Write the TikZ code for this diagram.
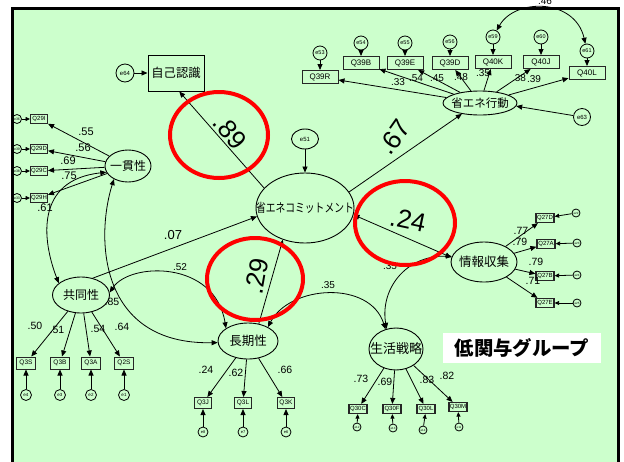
\documentclass[tikz,border=0pt]{standalone}
\usepackage{fontspec}
\setmainfont{Liberation Sans}
\newfontfamily\jp{Noto Sans CJK JP}
\usetikzlibrary{shapes.geometric,arrows.meta}
\definecolor{bgg}{HTML}{CCFFCC}
\begin{document}
\begin{tikzpicture}[x=1pt,y=-1pt,
  lat/.style={ellipse,draw,line width=0.9pt,inner sep=0pt},
  ob/.style={rectangle,draw=black!85,line width=1pt,inner sep=0pt},
  er/.style={circle,draw,line width=0.8pt,inner sep=0pt},
  a/.style={-{Triangle[length=6pt,width=5pt]},line width=0.8pt},
  aa/.style={{Triangle[length=6pt,width=5pt]}-{Triangle[length=6pt,width=5pt]},line width=0.8pt},
  sa/.style={-{Triangle[length=4.5pt,width=4pt]},line width=0.8pt},
  jt/.style={font=\jp\fontsize{#1}{#1}\selectfont},
  ef/.style={font=\fontsize{#1}{#1}\selectfont},
  pl/.style={font=\fontsize{#1}{#1}\selectfont,inner sep=0pt},
  bg/.style={font=\fontsize{26}{26}\selectfont,inner sep=0pt},
  rc/.style={ellipse,draw=red,line width=4pt,inner sep=0pt}
]
\useasboundingbox (0,0) rectangle (624,461);
\fill[white] (0,0) rectangle (624,461);
\draw[line width=3pt,fill=bgg] (12.5,8.5) rectangle (618.5,480);

% latent variables
\node[ob,draw=black,minimum width=56pt,minimum height=36pt,label={[jt=12.3]center:自己認識}] (self) at (176,73) {};
\node[er,minimum size=18pt,label={[ef=6]center:e64}] (e64) at (125,73) {};
\node[lat,minimum width=98pt,minimum height=70pt,label={[jt=9.8]center:\scalebox{1}[1.25]{省エネコミットメント}}] (cm) at (305,208) {};
\node[lat,minimum width=27pt,minimum height=20pt,label={[ef=6]center:e51}] (e51) at (305,139) {};
\node[lat,minimum width=74pt,minimum height=24pt,label={[jt=11.5]center:省エネ行動}] (sk) at (480,103) {};
\node[er,minimum size=17pt,label={[ef=6]center:e63}] (e63) at (582,117) {};
\node[lat,minimum width=46pt,minimum height=32pt,label={[jt=12]center:一貫性}] (yi) at (128,166) {};
\node[lat,minimum width=57pt,minimum height=36pt,label={[jt=12]center:共同性}] (ky) at (81,295) {};
\node[lat,minimum width=60pt,minimum height=36pt,label={[jt=12.5]center:長期性}] (cq) at (248,341) {};
\node[lat,minimum width=54pt,minimum height=42pt,label={[jt=13]center:生活戦略}] (ss) at (396,349) {};
\node[lat,minimum width=66pt,minimum height=40pt,label={[jt=12.5]center:情報収集}] (jh) at (484,262) {};

% indicators of 省エネ行動
\foreach \n/\x/\y/\ey/\en in {Q39R/320/77/53/e53, Q39B/361/63/43/e54, Q39E/405/63/43/e55, Q39D/450/63/42/e56, Q40K/493/62/37/e59, Q40J/541/62/37/e60, Q40L/587/73/51/e61}{
  \node[ob,minimum width=36pt,minimum height=13pt,label={[ef=8]center:\n}] (\n) at (\x,\y) {};
  \node[er,minimum size=14pt,label={[ef=5.5]center:\en}] (\en) at (\x,\ey) {};
  \draw[a] (\en) -- (\n);
  \draw[a] (sk) -- (\n);
}
% indicators of 一貫性
\foreach \n/\y/\en in {Q29I/119/e36, Q29D/149/e39, Q29C/171/e38, Q29H/198/e33}{
  \node[ob,minimum width=17pt,minimum height=9pt,label={[ef=6]center:\n}] (\n) at (39,\y) {};
  \node[er,minimum size=9pt,label={[ef=3.5]center:\en}] (\en) at (17,\y) {};
  \draw[sa] (\en) -- (\n);
  \draw[a] (yi) -- (\n);
}
% indicators of 共同性
\foreach \n/\x/\en in {Q3S/26/e4, Q3B/60/e3, Q3A/91/e2, Q2S/124/e1}{
  \node[ob,minimum width=19pt,minimum height=12pt,label={[ef=6.5]center:\n}] (\n) at (\x,363) {};
  \node[er,minimum size=11pt,label={[ef=4.5]center:\en}] (\en) at (\x,395) {};
  \draw[a] (\en) -- (\n);
  \draw[a] (ky) -- (\n);
}
% indicators of 長期性
\foreach \n/\x/\en in {Q3J/203/e8, Q3L/243/e7, Q3K/286/e6}{
  \node[ob,minimum width=17pt,minimum height=11pt,label={[ef=6.5]center:\n}] (\n) at (\x,403) {};
  \node[er,minimum size=10pt,label={[ef=4]center:\en}] (\en) at (\x,432) {};
  \draw[a] (\en) -- (\n);
  \draw[a] (cq) -- (\n);
}
% indicators of 生活戦略
\foreach \n/\x/\y/\ex/\ey/\en in {Q30C/358/409/357/427/e12, Q30F/392/409/393/428/e13, Q30L/426/409/423/430/e14, Q30M/458/407/459/427/e11}{
  \node[ob,line width=1.2pt,minimum width=18pt,minimum height=9pt,label={[ef=6]center:\n}] (\n) at (\x,\y) {};
  \node[er,minimum size=8pt,label={[ef=3]center:\en}] (\en) at (\ex,\ey) {};
  \draw[sa] (\en) -- (\n);
  \draw[a] (ss) -- (\n);
}
% indicators of 情報収集
\foreach \n/\x/\y/\ex/\ey/\en in {Q27D/545/218/576/213/e22, Q27A/546/244/577/243/e23, Q27B/545/276/577/275/e24, Q27E/545/303/577/303/e25}{
  \node[ob,line width=1.2pt,minimum width=18pt,minimum height=9pt,label={[ef=6]center:\n}] (\n) at (\x,\y) {};
  \node[er,minimum size=8pt,label={[ef=3]center:\en}] (\en) at (\ex,\ey) {};
  \draw[sa] (\en) -- (\n);
  \draw[a] (jh) -- (\n);
}

% structural paths
\draw[a] (e64) -- (self);
\draw[a] (cm.154) -- (self.-80);
\draw[a] (e51) -- (cm);
\draw[a] (cm.20) -- (sk.211);
\draw[a] (e63) -- (sk.-5);
\draw[aa] (cm.-8) -- (jh.172);
\draw[a] (ky.55) -- (cm.190);
\draw[a] (cq.58) -- (cm.235);
% correlations
\draw[aa] (e59) .. controls (515,-2) and (575,-2) .. (e61);
\draw[aa] (yi.196) .. controls (35,180) and (42,240) .. (ky.152);
\draw[aa] (yi.223) .. controls (95,240) and (100,345) .. (cq.183);
\draw[aa] (ky.5) .. controls (130,262) and (215,260) .. (cq.150);
\draw[aa] (cq.35) .. controls (290,285) and (370,280) .. (ss.118);
\draw[aa] (jh.170) .. controls (405,255) and (380,290) .. (ss.115);

% coefficient labels
\node[pl=10] (l46) at (545,1) {.46};
\node[pl=10] (l33) at (398,82) {.33};
\node[pl=10] (l54t) at (416,78) {.54};
\node[pl=10] (l45) at (437,78) {.45};
\node[pl=10] (l48) at (461,77) {.48};
\node[pl=10] (l35t) at (483,73) {.35};
\node[pl=10] (l38) at (519,78) {.38};
\node[pl=10] (l39) at (534,79) {.39};
\node[pl=11] (l55) at (86,132) {.55};
\node[pl=11] (l56) at (83,148) {.56};
\node[pl=11] (l69) at (68,161) {.69};
\node[pl=11] (l75) at (69,176) {.75};
\node[pl=11] (l61) at (45,208) {.61};
\node[pl=13] (l07) at (173,235) {.07};
\node[pl=10] (l52) at (180,267) {.52};
\node[pl=10.5] (l85) at (112,302) {.85};
\node[pl=10.5] (l50) at (35,326) {.50};
\node[pl=10.5] (l51) at (57,330) {.51};
\node[pl=10.5] (l54) at (98,329) {.54};
\node[pl=10.5] (l64) at (122,327) {.64};
\node[pl=10.5] (l24) at (206,370) {.24};
\node[pl=10.5] (l62) at (236,373) {.62};
\node[pl=10.5] (l66) at (285,370) {.66};
\node[pl=10.5] (l73) at (361,379) {.73};
\node[pl=10.5] (l69b) at (385,382) {.69};
\node[pl=10.5] (l83) at (427,380) {.83};
\node[pl=10.5] (l82) at (447,376) {.82};
\node[pl=10.5] (l77) at (521,231) {.77};
\node[pl=10.5] (l79a) at (520,242) {.79};
\node[pl=10.5] (l79b) at (536,262) {.79};
\node[pl=10.5] (l71) at (533,281) {.71};
\node[pl=10] (l35a) at (328,285) {.35};
\node[pl=10] (l35b) at (390,266) {.35};

% big coefficients
\node[bg,rotate=-50] (b89) at (230,132) {.89};
\node[bg,rotate=55] (b67) at (394,137) {.67};
\node[bg,rotate=-12] (b24) at (408,220) {.24};
\node[bg,rotate=80] (b29) at (257,276) {.29};

% group title
\node[fill=white,minimum width=158pt,minimum height=30pt,inner sep=0pt,font=\jp\bfseries\fontsize{19.4}{19.4}\selectfont] (title) at (522,348) {低関与グループ};

% red circles
\node[rc,minimum width=98pt,minimum height=86pt] (r1) at (219,135) {};
\node[rc,minimum width=100pt,minimum height=84pt] (r2) at (405,223) {};
\node[rc,minimum width=96pt,minimum height=82pt] (r3) at (255,279) {};
\end{tikzpicture}
\end{document}
